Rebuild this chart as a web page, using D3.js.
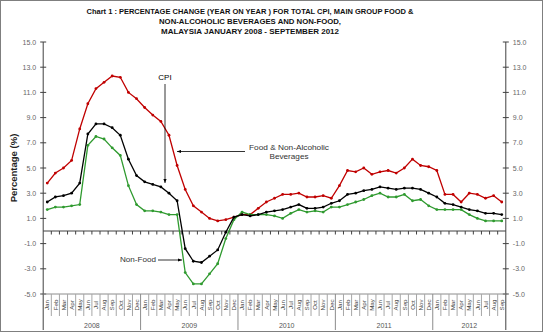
<!DOCTYPE html>
<html><head><meta charset="utf-8">
<script src="https://cdn.jsdelivr.net/npm/d3@7"></script>
<style>body{margin:0;background:#fff} svg{display:block}</style>
</head><body><svg id="c" width="544" height="334"></svg>
<script>
const months = ["Jan","Feb","Mar","Apr","May","Jun","Jul","Aug","Sep","Oct","Nov","Dec"];
const years = ["2008","2009","2010","2011","2012"];
const monthsPerYear = [12,12,12,12,9];
const food = [3.8,4.6,5.0,5.6,8.1,10.1,11.3,11.8,12.3,12.2,11.0,10.5,
  9.8,9.2,8.7,7.6,5.2,3.3,2.0,1.5,1.0,0.8,0.9,1.1,
  1.3,1.3,1.8,2.3,2.6,2.9,2.9,3.0,2.7,2.7,2.8,2.6,
  3.6,4.8,4.7,5.0,4.5,4.7,4.8,4.6,5.0,5.7,5.2,5.1,
  4.8,2.9,2.9,2.3,3.0,2.9,2.6,2.8,2.3];
const cpi = [2.3,2.7,2.8,3.0,3.8,7.7,8.5,8.5,8.2,7.6,5.7,4.4,
  3.9,3.7,3.5,3.0,2.4,-1.4,-2.4,-2.5,-2.0,-1.5,-0.1,1.1,
  1.3,1.2,1.3,1.5,1.6,1.7,1.9,2.1,1.8,1.8,1.9,2.2,
  2.4,2.9,3.0,3.2,3.3,3.5,3.4,3.3,3.4,3.4,3.3,3.0,
  2.7,2.2,2.1,1.9,1.7,1.6,1.4,1.4,1.3];
const nonFood = [1.7,1.9,1.9,2.0,2.1,6.8,7.5,7.3,6.6,6.0,3.6,2.1,
  1.6,1.6,1.5,1.3,1.3,-3.3,-4.2,-4.2,-3.4,-2.6,-0.6,0.9,
  1.5,1.3,1.3,1.3,1.2,1.0,1.4,1.7,1.5,1.6,1.5,1.9,
  1.9,2.1,2.3,2.5,2.8,3.0,2.7,2.7,2.9,2.4,2.5,2.0,
  1.7,1.7,1.7,1.7,1.3,1.0,0.8,0.8,0.8];
const yTicks = [-5,-3,-1,1,3,5,7,9,11,13,15];
const titleLines = ["Chart 1 : PERCENTAGE CHANGE (YEAR ON YEAR ) FOR TOTAL CPI, MAIN GROUP FOOD &",
  "NON-ALCOHOLIC BEVERAGES AND NON-FOOD,","MALAYSIA JANUARY  2008 - SEPTEMBER  2012"];

const categories = [];
years.forEach((yr,i)=>{ for(let m=0;m<monthsPerYear[i];m++) categories.push(yr+"-"+months[m]); });

const svg = d3.select("#c");
const font = "'Liberation Sans', Arial, sans-serif";
const L = 43.2, R = 505.8, T = 42, B = 294, bottom = 330;
const x = d3.scaleBand().domain(categories).range([L,R]);
const y = d3.scaleLinear().domain([-5,15]).range([B,T]);
const cx = c => x(c) + x.bandwidth()/2;

svg.append("rect").attr("x",0.5).attr("y",0.5).attr("width",542).attr("height",331)
  .attr("fill","#fff").attr("stroke","#7f7f7f");

// title
const tw = [327,182,178];
titleLines.forEach((t,i)=>{
  svg.append("text").attr("x",250).attr("y",14+i*10).attr("text-anchor","middle")
    .attr("font-family",font).attr("font-size",7.6).attr("font-weight","bold").attr("fill","#111")
    .attr("textLength",tw[i]).attr("lengthAdjust","spacingAndGlyphs").text(t);
});

// y axes
const axColor = "#404040";
[L,R].forEach((xx,k)=>{
  svg.append("line").attr("x1",xx).attr("x2",xx).attr("y1",T).attr("y2",bottom).attr("stroke",axColor).attr("stroke-width",1);
  yTicks.forEach(v=>{
    svg.append("line").attr("x1",xx-3).attr("x2",xx+3).attr("y1",y(v)).attr("y2",y(v)).attr("stroke",axColor);
    svg.append("text").attr("x",k===0?xx-7:xx+7).attr("y",y(v)+2.5)
      .attr("text-anchor",k===0?"end":"start").attr("font-family",font).attr("font-size",7)
      .attr("fill","#666").text(v.toFixed(1));
  });
});

// zero line with ticks
svg.append("line").attr("x1",L).attr("x2",R).attr("y1",y(0)).attr("y2",y(0)).attr("stroke",axColor);
categories.forEach((c,i)=>{
  if(i===0) return;
  svg.append("line").attr("x1",x(c)).attr("x2",x(c)).attr("y1",y(0)).attr("y2",y(0)+3.5).attr("stroke",axColor);
});

// category table
svg.append("line").attr("x1",L).attr("x2",R).attr("y1",B).attr("y2",B).attr("stroke","#8c8c8c");
let idx = 0;
years.forEach((yr,i)=>{
  const first = categories[idx], last = categories[idx+monthsPerYear[i]-1];
  const x0 = x(first), x1 = x(last)+x.bandwidth();
  svg.append("text").attr("x",(x0+x1)/2).attr("y",328).attr("text-anchor","middle")
    .attr("font-family",font).attr("font-size",7).attr("fill","#555").text(yr);
  if(i>0) svg.append("line").attr("x1",x0).attr("x2",x0).attr("y1",B).attr("y2",bottom).attr("stroke","#8c8c8c");
  idx += monthsPerYear[i];
});
categories.forEach((c,i)=>{
  const m = c.split("-")[1];
  if(i>0 && m!=="Jan") svg.append("line").attr("x1",x(c)).attr("x2",x(c)).attr("y1",B).attr("y2",316).attr("stroke","#a6a6a6");
  svg.append("text").attr("transform",`translate(${cx(c)+2.2},305) rotate(-90)`).attr("text-anchor","middle")
    .attr("font-family",font).attr("font-size",6.2).attr("fill","#444").text(m);
});

// y axis title
svg.append("text").attr("transform","translate(17,168) rotate(-90)").attr("text-anchor","middle")
  .attr("font-family",font).attr("font-size",9.5).attr("font-weight","bold").attr("fill","#222").text("Percentage (%)");

// series
const series = [{v:food,c:"#c00000"},{v:nonFood,c:"#2f9a2f"},{v:cpi,c:"#000"}];
const line = d3.line().x((d,i)=>cx(categories[i])).y(d=>y(d));
series.forEach(s=>{
  svg.append("path").attr("d",line(s.v)).attr("fill","none").attr("stroke",s.c).attr("stroke-width",1.3);
  svg.append("g").selectAll("circle").data(s.v).join("circle")
    .attr("cx",(d,i)=>cx(categories[i])).attr("cy",d=>y(d)).attr("r",1.4).attr("fill",s.c);
});

// annotations
const defs = svg.append("defs");
defs.append("marker").attr("id","ah").attr("viewBox","0 0 10 10").attr("refX",10).attr("refY",5)
  .attr("markerWidth",5).attr("markerHeight",5).attr("orient","auto-start-reverse")
  .append("path").attr("d","M0,1 L10,5 L0,9 Z").attr("fill","#000");
svg.append("text").attr("x",165).attr("y",80).attr("text-anchor","middle").attr("font-family",font)
  .attr("font-size",8).attr("fill","#000").text("CPI");
svg.append("line").attr("x1",165).attr("x2",165).attr("y1",84).attr("y2",183).attr("stroke","#000").attr("stroke-width",0.8).attr("marker-end","url(#ah)");
svg.append("text").attr("x",289).attr("y",150).attr("text-anchor","middle").attr("font-family",font)
  .attr("font-size",7.5).attr("fill","#333").attr("textLength",80).attr("lengthAdjust","spacingAndGlyphs").text("Food & Non-Alcoholic");
svg.append("text").attr("x",289).attr("y",159).attr("text-anchor","middle").attr("font-family",font)
  .attr("font-size",7.5).attr("fill","#333").attr("textLength",39).attr("lengthAdjust","spacingAndGlyphs").text("Beverages");
svg.append("line").attr("x1",245).attr("x2",177).attr("y1",151.5).attr("y2",151.5).attr("stroke","#000").attr("stroke-width",0.8).attr("marker-end","url(#ah)");
svg.append("text").attr("x",138).attr("y",262).attr("text-anchor","middle").attr("font-family",font)
  .attr("font-size",7.5).attr("fill","#333").attr("textLength",36).attr("lengthAdjust","spacingAndGlyphs").text("Non-Food");
svg.append("line").attr("x1",158).attr("x2",182).attr("y1",260).attr("y2",260).attr("stroke","#000").attr("stroke-width",0.8).attr("marker-end","url(#ah)");
</script></body></html>
